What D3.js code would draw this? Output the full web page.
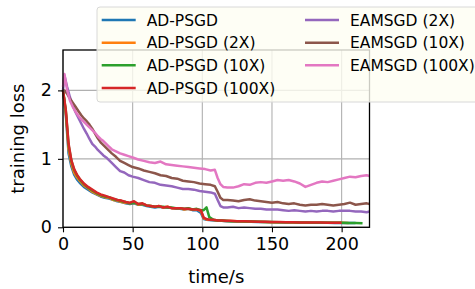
<!DOCTYPE html>
<html>
<head>
<meta charset="utf-8">
<script src="https://cdn.jsdelivr.net/npm/d3@7"></script>
<style>
    body { margin: 0; background: #fff; }
    svg { display: block; font-family: "DejaVu Sans", sans-serif; }
</style>
</head>
<body>
<div id="chart"></div>
<script>
// --- Données ---

// temps (s) des courbes AD-PSGD
const timeAD = [0, 2, 4, 6, 8, 10, 12,
    15, 18, 21, 24, 27, 30, 33, 36, 39, 42, 45, 48, 51, 54, 57, 60, 63, 66, 69, 72, 75, 78, 81, 84, 87, 90, 93, 96, 99,
    101, 103, 105, 108, 111, 114, 117, 120,
    125, 130, 135, 140, 145, 150, 155, 160, 165, 170, 175, 180, 185, 190, 195, 200, 205, 210, 215];

const adPsgd = [2.00, 1.65, 1.08, 0.89, 0.77, 0.70, 0.65,
    0.59, 0.55, 0.51, 0.48, 0.45, 0.43, 0.42, 0.40, 0.38, 0.37, 0.35, 0.34, 0.35, 0.33, 0.33, 0.31, 0.30, 0.29, 0.30, 0.29, 0.29, 0.28, 0.27, 0.27, 0.26, 0.27, 0.25, 0.25, 0.21,
    0.12, 0.11, 0.105, 0.10, 0.098, 0.095, 0.09, 0.09,
    0.085, 0.083, 0.08, 0.078, 0.076, 0.074, 0.072, 0.071, 0.07, 0.068, 0.067, 0.066, 0.066, 0.065, 0.064, 0.064, 0.063, 0.062, null];

const adPsgd2x = [2.00, 1.68, 1.14, 0.93, 0.80, 0.73, 0.68,
    0.61, 0.57, 0.52, 0.49, 0.46, 0.44, 0.43, 0.40, 0.39, 0.37, 0.36, 0.35, 0.36, 0.33, 0.34, 0.32, 0.31, 0.30, 0.31, 0.29, 0.30, 0.28, 0.28, 0.28, 0.26, 0.27, 0.26, 0.26, 0.24,
    0.13, 0.115, 0.11, 0.105, 0.10, 0.097, 0.093, 0.092,
    0.087, 0.084, 0.082, 0.08, 0.077, 0.075, 0.074, 0.072, 0.071, 0.069, 0.068, 0.067, 0.067, 0.066, 0.065, 0.065, 0.064, null, null];

const adPsgd10x = [2.00, 1.70, 1.20, 0.97, 0.84, 0.76, 0.70,
    0.63, 0.58, 0.54, 0.50, 0.47, 0.45, 0.44, 0.41, 0.40, 0.38, 0.37, 0.35, 0.36, 0.34, 0.34, 0.32, 0.31, 0.30, 0.30, 0.30, 0.29, 0.29, 0.28, 0.28, 0.27, 0.28, 0.26, 0.27, 0.25,
    0.25, 0.29, 0.15, 0.11, 0.10, 0.10, 0.095, 0.09,
    0.088, 0.085, 0.084, 0.08, 0.078, 0.077, 0.075, 0.073, 0.072, 0.07, 0.07, 0.068, 0.068, 0.067, 0.066, 0.066, 0.064, 0.062, 0.058];

const adPsgd100x = [2.00, 1.72, 1.22, 0.98, 0.85, 0.77, 0.71,
    0.64, 0.59, 0.55, 0.51, 0.48, 0.46, 0.44, 0.42, 0.40, 0.39, 0.37, 0.36, 0.38, 0.34, 0.35, 0.32, 0.31, 0.30, 0.31, 0.29, 0.30, 0.28, 0.28, 0.28, 0.27, 0.27, 0.26, 0.26, 0.25,
    0.14, 0.12, 0.11, 0.11, 0.10, 0.10, 0.095, 0.095,
    0.09, 0.088, 0.085, 0.082, 0.08, 0.078, 0.076, 0.074, 0.073, 0.071, 0.07, 0.07, 0.069, 0.068, 0.067, 0.067, null, null, null];

// temps (s) des courbes EAMSGD
const timeEA = [0, 1,
    3, 5, 7, 9, 11, 13, 15, 17, 19, 21, 23, 25, 27, 29, 31, 33, 35,
    38, 41, 44, 47, 50,
    54, 58, 62, 66, 70, 74, 78, 82, 86, 90, 94, 98, 102, 106,
    109, 111, 113, 115, 118,
    122, 126, 130, 134, 138, 142, 146, 150, 154, 158, 162, 166, 170, 174, 178, 182, 186, 190, 194, 198, 202, 206, 210, 214, 218,
    220];

const eamsgd2x = [2.00, 2.22,
    2.05, 1.90, 1.78, 1.68, 1.60, 1.52, 1.44, 1.37, 1.29, 1.22, 1.18, 1.13, 1.09, 1.05, 1.02, 0.98, 0.94,
    0.88, 0.82, 0.80, 0.76, 0.74,
    0.72, 0.69, 0.66, 0.65, 0.62, 0.61, 0.60, 0.58, 0.56, 0.56, 0.55, 0.53, 0.52, 0.51,
    0.49, 0.40, 0.31, 0.29, 0.29,
    0.30, 0.28, 0.29, 0.28, 0.27, 0.27, 0.26, 0.26, 0.26, 0.25, 0.24, 0.25, 0.24, 0.23, 0.24, 0.23, 0.24, 0.24, 0.23, 0.24, 0.24, 0.24, 0.23, 0.23, 0.22,
    0.23];

const eamsgd10x = [2.00, 2.00,
    1.95, 1.88, 1.82, 1.76, 1.70, 1.64, 1.59, 1.55, 1.50, 1.44, 1.37, 1.30, 1.24, 1.20, 1.16, 1.12, 1.08,
    1.03, 0.97, 0.94, 0.91, 0.88,
    0.86, 0.83, 0.81, 0.79, 0.76, 0.75, 0.72, 0.71, 0.68, 0.67, 0.66, 0.64, 0.63, 0.62,
    0.60, 0.52, 0.43, 0.40, 0.40,
    0.39, 0.38, 0.40, 0.41, 0.39, 0.38, 0.37, 0.36, 0.37, 0.35, 0.34, 0.35, 0.33, 0.32, 0.33, 0.33, 0.34, 0.33, 0.32, 0.33, 0.34, 0.36, 0.33, 0.34, 0.35,
    0.34];

const eamsgd100x = [2.05, 2.24,
    2.00, 1.85, 1.76, 1.69, 1.63, 1.58, 1.54, 1.50, 1.46, 1.42, 1.38, 1.33, 1.29, 1.26, 1.22, 1.18, 1.14,
    1.11, 1.08, 1.06, 1.04, 1.02,
    0.99, 0.97, 0.95, 0.94, 0.96, 0.92, 0.91, 0.90, 0.89, 0.88, 0.87, 0.86, 0.85, 0.83,
    0.84, 0.72, 0.63, 0.59, 0.58,
    0.58, 0.60, 0.63, 0.62, 0.65, 0.66, 0.65, 0.67, 0.69, 0.68, 0.69, 0.67, 0.64, 0.59, 0.62, 0.65, 0.67, 0.66, 0.68, 0.70, 0.72, 0.74, 0.73, 0.75, 0.76,
    0.75];

const xTicks = [0, 50, 100, 150, 200];
const yTicks = [0, 1, 2];

// --- Séries (ordre de tracé de matplotlib) ---
const series = [
    { name: "AD-PSGD",          t: timeAD, v: adPsgd,     color: "#1f77b4" },
    { name: "AD-PSGD (2X)",     t: timeAD, v: adPsgd2x,   color: "#ff7f0e" },
    { name: "AD-PSGD (10X)",    t: timeAD, v: adPsgd10x,  color: "#2ca02c" },
    { name: "AD-PSGD (100X)",   t: timeAD, v: adPsgd100x, color: "#d62728" },
    { name: "EAMSGD (2X)",      t: timeEA, v: eamsgd2x,   color: "#9467bd" },
    { name: "EAMSGD (10X)",     t: timeEA, v: eamsgd10x,  color: "#8c564b" },
    { name: "EAMSGD (100X)",    t: timeEA, v: eamsgd100x, color: "#e377c2" }
];

// --- Dimensions ---
const width = 475, height = 289;
const axLeft = 63, axRight = 369.5, axTop = 50, axBottom = 227.3;

const svg = d3.select("#chart").append("svg")
    .attr("width", width)
    .attr("height", height);

const x = d3.scaleLinear().domain([0, 220]).range([axLeft, axRight]);
const y = d3.scaleLinear().domain([0, 2.59]).range([axBottom, axTop]);

// grille
svg.append("g")
    .selectAll("line")
    .data(xTicks)
    .join("line")
    .attr("x1", d => x(d)).attr("x2", d => x(d))
    .attr("y1", axTop).attr("y2", axBottom)
    .attr("stroke", "#b0b0b0")
    .attr("stroke-width", 1.1);

svg.append("g")
    .selectAll("line")
    .data(yTicks)
    .join("line")
    .attr("x1", axLeft).attr("x2", axRight)
    .attr("y1", d => y(d)).attr("y2", d => y(d))
    .attr("stroke", "#b0b0b0")
    .attr("stroke-width", 1.1);

// courbes
const line = d3.line()
    .defined(d => d[1] != null)
    .x(d => x(d[0]))
    .y(d => y(d[1]));

const plot = svg.append("g");
series.forEach(s => {
    const pts = s.t.map((t, i) => [t, s.v[i]]);
    plot.append("path")
        .datum(pts)
        .attr("d", line)
        .attr("fill", "none")
        .attr("stroke", s.color)
        .attr("stroke-width", 2.5)
        .attr("stroke-linejoin", "round")
        .attr("stroke-linecap", "butt");
});

// axes
const xAxis = svg.append("g")
    .attr("transform", `translate(0,${axBottom})`)
    .call(d3.axisBottom(x).tickValues(xTicks).tickSize(5).tickPadding(5));
const yAxis = svg.append("g")
    .attr("transform", `translate(${axLeft},0)`)
    .call(d3.axisLeft(y).tickValues(yTicks).tickFormat(d3.format("d")).tickSize(5).tickPadding(6));

[xAxis, yAxis].forEach(a => {
    a.select(".domain").remove();
    a.selectAll("line").attr("stroke", "#000").attr("stroke-width", 1.1);
    a.selectAll("text")
        .attr("fill", "#000")
        .style("font-size", "17.5px")
        .style("font-family", "DejaVu Sans");
});

// cadre
svg.append("rect")
    .attr("x", axLeft).attr("y", axTop)
    .attr("width", axRight - axLeft).attr("height", axBottom - axTop)
    .attr("fill", "none")
    .attr("stroke", "#000")
    .attr("stroke-width", 1.3);

// titres des axes
svg.append("text")
    .attr("x", (axLeft + axRight) / 2)
    .attr("y", 283)
    .attr("text-anchor", "middle")
    .style("font-size", "18px")
    .text("time/s");

svg.append("text")
    .attr("transform", `translate(24,${(axTop + axBottom) / 2}) rotate(-90)`)
    .attr("text-anchor", "middle")
    .style("font-size", "18px")
    .text("training loss");

// --- Légende (2 colonnes, semi-transparente) ---
const legend = svg.append("g");
legend.append("rect")
    .attr("x", 97).attr("y", 7)
    .attr("width", 400).attr("height", 95)
    .attr("rx", 3)
    .attr("fill", "#fefef2")
    .attr("fill-opacity", 0.8)
    .attr("stroke", "#d8d8d8")
    .attr("stroke-width", 1);

const rowY = [20, 42.7, 65.3, 88];
const colX = [101.7, 305];
series.forEach((s, i) => {
    const col = i < 4 ? 0 : 1;
    const row = i < 4 ? i : i - 4;
    const gy = rowY[row];
    legend.append("line")
        .attr("x1", colX[col]).attr("x2", colX[col] + 34)
        .attr("y1", gy).attr("y2", gy)
        .attr("stroke", s.color)
        .attr("stroke-width", 2.5);
    legend.append("text")
        .attr("x", colX[col] + 45)
        .attr("y", gy)
        .attr("dy", "0.36em")
        .style("font-size", "15.5px")
        .attr("fill", "#000")
        .text(s.name);
});
</script>
</body>
</html>
